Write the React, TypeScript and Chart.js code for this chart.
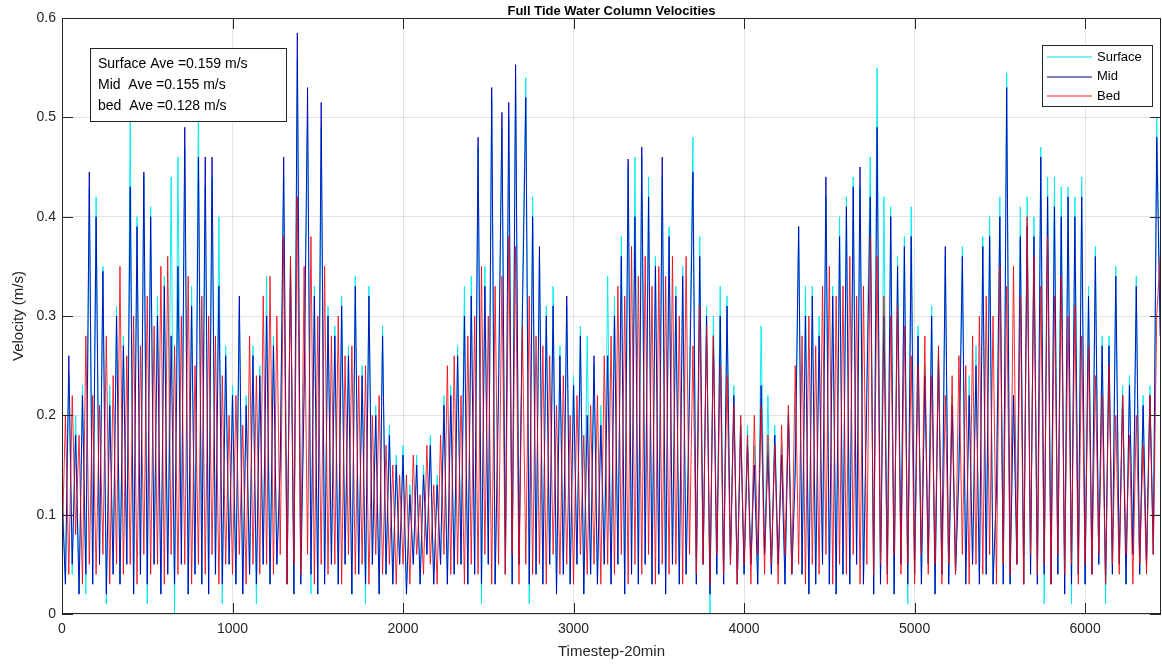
import React, { useEffect, useRef } from 'react';
import { Chart, registerables } from 'chart.js';
Chart.register(...registerables);

// timestep spacing of the sampled readings
const STEP = 20;
const X_MAX = 6445;

const seriesNames = ['Surface', 'Mid', 'Bed'];
const xTicks = [0, 1000, 2000, 3000, 4000, 5000, 6000];
const yTicks = [0, 0.1, 0.2, 0.3, 0.4, 0.5, 0.6];
const aveLines = ['Surface Ave =0.159 m/s', 'Mid  Ave =0.155 m/s', 'bed  Ave =0.128 m/s'];

const surface = [
  0.14, 0.03, 0.24, 0.04, 0.20, 0.02, 0.23, 0.02, 0.43, 0.03, 0.42, 0.05, 0.35, 0.01, 0.23, 0.04, 0.31, 0.03, 0.28, 0.05,
  0.50, 0.02, 0.40, 0.04, 0.44, 0.01, 0.41, 0.05, 0.32, 0.02, 0.34, 0.04, 0.44, 0.00, 0.46, 0.05, 0.47, 0.02, 0.33, 0.04,
  0.51, 0.03, 0.43, 0.02, 0.44, 0.04, 0.40, 0.01, 0.27, 0.05, 0.23, 0.03, 0.31, 0.02, 0.22, 0.04, 0.27, 0.01, 0.25, 0.05,
  0.34, 0.03, 0.28, 0.05, 0.16, 0.44, 0.03, 0.36, 0.02, 0.56, 0.03, 0.24, 0.50, 0.02, 0.33, 0.02, 0.49, 0.03, 0.31, 0.05,
  0.29, 0.03, 0.32, 0.05, 0.27, 0.02, 0.34, 0.04, 0.25, 0.01, 0.33, 0.05, 0.21, 0.02, 0.29, 0.04, 0.19, 0.03, 0.16, 0.05,
  0.17, 0.02, 0.13, 0.05, 0.16, 0.03, 0.15, 0.06, 0.18, 0.03, 0.14, 0.05, 0.22, 0.03, 0.23, 0.04, 0.27, 0.05, 0.33, 0.03,
  0.34, 0.04, 0.47, 0.01, 0.35, 0.05, 0.52, 0.03, 0.24, 0.49, 0.04, 0.50, 0.03, 0.54, 0.05, 0.32, 0.54, 0.01, 0.42, 0.04,
  0.36, 0.03, 0.31, 0.05, 0.33, 0.02, 0.27, 0.04, 0.31, 0.03, 0.24, 0.05, 0.29, 0.02, 0.28, 0.04, 0.25, 0.03, 0.21, 0.05,
  0.34, 0.03, 0.32, 0.05, 0.38, 0.02, 0.45, 0.04, 0.46, 0.03, 0.46, 0.05, 0.44, 0.03, 0.36, 0.04, 0.44, 0.02, 0.39, 0.05,
  0.33, 0.03, 0.35, 0.04, 0.24, 0.48, 0.03, 0.38, 0.05, 0.31, 0.00, 0.30, 0.04, 0.33, 0.03, 0.32, 0.05, 0.23, 0.03, 0.20,
  0.04, 0.19, 0.05, 0.17, 0.03, 0.29, 0.06, 0.22, 0.04, 0.19, 0.05, 0.17, 0.03, 0.21, 0.04, 0.16, 0.39, 0.04, 0.33, 0.02,
  0.33, 0.03, 0.30, 0.05, 0.42, 0.03, 0.33, 0.02, 0.40, 0.04, 0.42, 0.03, 0.44, 0.05, 0.43, 0.03, 0.24, 0.46, 0.02, 0.55,
  0.03, 0.42, 0.04, 0.41, 0.02, 0.36, 0.05, 0.38, 0.01, 0.41, 0.04, 0.29, 0.03, 0.25, 0.05, 0.31, 0.02, 0.27, 0.04, 0.36,
  0.03, 0.22, 0.04, 0.16, 0.37, 0.03, 0.24, 0.05, 0.27, 0.03, 0.38, 0.04, 0.40, 0.03, 0.14, 0.42, 0.03, 0.545, 0.03, 0.22,
  0.05, 0.41, 0.03, 0.42, 0.04, 0.40, 0.03, 0.47, 0.01, 0.44, 0.03, 0.44, 0.04, 0.43, 0.02, 0.43, 0.01, 0.42, 0.04, 0.44,
  0.03, 0.33, 0.04, 0.37, 0.05, 0.28, 0.01, 0.28, 0.04, 0.35, 0.05, 0.23, 0.03, 0.24, 0.06, 0.34, 0.04, 0.22, 0.05, 0.23,
  0.06, 0.50, 0.30,
];

const mid = [
  0.12, 0.03, 0.26, 0.05, 0.18, 0.02, 0.22, 0.04, 0.445, 0.03, 0.40, 0.05, 0.345, 0.02, 0.21, 0.04, 0.30, 0.03, 0.27, 0.05,
  0.43, 0.02, 0.39, 0.04, 0.445, 0.03, 0.40, 0.05, 0.30, 0.02, 0.33, 0.04, 0.28, 0.03, 0.35, 0.05, 0.49, 0.02, 0.31, 0.04,
  0.46, 0.03, 0.46, 0.02, 0.46, 0.04, 0.33, 0.03, 0.26, 0.05, 0.22, 0.03, 0.32, 0.02, 0.21, 0.04, 0.26, 0.03, 0.24, 0.05,
  0.30, 0.03, 0.27, 0.05, 0.15, 0.46, 0.03, 0.35, 0.02, 0.585, 0.03, 0.22, 0.53, 0.04, 0.32, 0.02, 0.515, 0.03, 0.30, 0.05,
  0.28, 0.03, 0.31, 0.05, 0.26, 0.02, 0.33, 0.04, 0.24, 0.03, 0.32, 0.05, 0.20, 0.02, 0.28, 0.04, 0.18, 0.03, 0.15, 0.05,
  0.16, 0.02, 0.12, 0.05, 0.15, 0.03, 0.14, 0.06, 0.17, 0.03, 0.13, 0.05, 0.21, 0.03, 0.22, 0.04, 0.26, 0.05, 0.30, 0.03,
  0.32, 0.04, 0.48, 0.03, 0.33, 0.05, 0.53, 0.03, 0.22, 0.505, 0.04, 0.515, 0.03, 0.553, 0.05, 0.30, 0.52, 0.03, 0.40, 0.04,
  0.37, 0.03, 0.30, 0.05, 0.31, 0.02, 0.26, 0.04, 0.32, 0.03, 0.23, 0.05, 0.28, 0.02, 0.20, 0.04, 0.26, 0.03, 0.19, 0.05,
  0.26, 0.03, 0.30, 0.05, 0.36, 0.02, 0.458, 0.04, 0.40, 0.03, 0.47, 0.05, 0.42, 0.03, 0.35, 0.04, 0.46, 0.02, 0.38, 0.05,
  0.32, 0.03, 0.34, 0.04, 0.22, 0.445, 0.03, 0.36, 0.05, 0.30, 0.02, 0.28, 0.04, 0.30, 0.03, 0.31, 0.05, 0.22, 0.03, 0.19,
  0.04, 0.17, 0.05, 0.15, 0.03, 0.23, 0.06, 0.16, 0.04, 0.18, 0.05, 0.16, 0.03, 0.20, 0.04, 0.14, 0.39, 0.04, 0.30, 0.02,
  0.32, 0.03, 0.28, 0.05, 0.44, 0.03, 0.32, 0.02, 0.38, 0.04, 0.41, 0.03, 0.43, 0.05, 0.45, 0.03, 0.22, 0.42, 0.02, 0.49,
  0.03, 0.30, 0.04, 0.40, 0.02, 0.35, 0.05, 0.37, 0.03, 0.38, 0.04, 0.28, 0.03, 0.24, 0.05, 0.30, 0.02, 0.26, 0.04, 0.37,
  0.03, 0.21, 0.04, 0.14, 0.36, 0.03, 0.22, 0.05, 0.25, 0.03, 0.37, 0.04, 0.38, 0.03, 0.12, 0.40, 0.03, 0.53, 0.03, 0.22,
  0.05, 0.38, 0.03, 0.39, 0.04, 0.38, 0.03, 0.46, 0.04, 0.42, 0.03, 0.41, 0.04, 0.40, 0.02, 0.42, 0.03, 0.40, 0.04, 0.42,
  0.03, 0.32, 0.04, 0.36, 0.05, 0.27, 0.03, 0.27, 0.04, 0.34, 0.05, 0.22, 0.03, 0.23, 0.06, 0.33, 0.04, 0.21, 0.05, 0.22,
  0.06, 0.48, 0.28,
];

const bed = [
  0.06, 0.20, 0.04, 0.22, 0.08, 0.18, 0.03, 0.28, 0.05, 0.22, 0.04, 0.21, 0.06, 0.28, 0.03, 0.24, 0.05, 0.35, 0.04, 0.26,
  0.05, 0.30, 0.03, 0.27, 0.06, 0.32, 0.04, 0.29, 0.05, 0.35, 0.03, 0.36, 0.06, 0.27, 0.04, 0.30, 0.05, 0.34, 0.03, 0.25,
  0.05, 0.32, 0.04, 0.30, 0.06, 0.28, 0.03, 0.24, 0.05, 0.20, 0.04, 0.22, 0.06, 0.19, 0.03, 0.28, 0.05, 0.24, 0.04, 0.32,
  0.05, 0.34, 0.04, 0.30, 0.06, 0.38, 0.03, 0.36, 0.05, 0.42, 0.04, 0.35, 0.06, 0.38, 0.03, 0.30, 0.05, 0.35, 0.04, 0.28,
  0.05, 0.30, 0.03, 0.26, 0.06, 0.27, 0.04, 0.24, 0.05, 0.25, 0.03, 0.20, 0.06, 0.22, 0.04, 0.17, 0.05, 0.15, 0.03, 0.14,
  0.05, 0.14, 0.03, 0.16, 0.06, 0.12, 0.04, 0.17, 0.05, 0.13, 0.03, 0.18, 0.06, 0.25, 0.04, 0.26, 0.05, 0.22, 0.03, 0.28,
  0.05, 0.30, 0.04, 0.35, 0.06, 0.30, 0.03, 0.33, 0.05, 0.34, 0.04, 0.38, 0.06, 0.37, 0.03, 0.29, 0.05, 0.32, 0.04, 0.28,
  0.05, 0.27, 0.03, 0.26, 0.06, 0.21, 0.04, 0.24, 0.05, 0.20, 0.03, 0.22, 0.06, 0.18, 0.04, 0.21, 0.05, 0.22, 0.03, 0.26,
  0.05, 0.28, 0.04, 0.33, 0.06, 0.32, 0.03, 0.37, 0.05, 0.34, 0.04, 0.36, 0.06, 0.33, 0.03, 0.35, 0.05, 0.34, 0.04, 0.36,
  0.05, 0.30, 0.03, 0.36, 0.06, 0.27, 0.04, 0.31, 0.05, 0.29, 0.03, 0.28, 0.06, 0.25, 0.04, 0.24, 0.05, 0.21, 0.03, 0.20,
  0.05, 0.18, 0.03, 0.20, 0.06, 0.21, 0.04, 0.18, 0.05, 0.17, 0.03, 0.19, 0.06, 0.21, 0.04, 0.25, 0.05, 0.28, 0.03, 0.30,
  0.05, 0.27, 0.04, 0.33, 0.06, 0.35, 0.03, 0.32, 0.05, 0.33, 0.04, 0.36, 0.06, 0.32, 0.03, 0.33, 0.05, 0.38, 0.04, 0.36,
  0.05, 0.32, 0.03, 0.30, 0.06, 0.31, 0.04, 0.29, 0.05, 0.26, 0.03, 0.25, 0.06, 0.28, 0.04, 0.24, 0.05, 0.27, 0.03, 0.22,
  0.05, 0.24, 0.04, 0.26, 0.06, 0.25, 0.03, 0.28, 0.05, 0.30, 0.04, 0.32, 0.06, 0.30, 0.03, 0.35, 0.05, 0.33, 0.04, 0.35,
  0.05, 0.32, 0.03, 0.40, 0.06, 0.36, 0.04, 0.33, 0.05, 0.38, 0.03, 0.32, 0.06, 0.34, 0.04, 0.30, 0.05, 0.31, 0.03, 0.28,
  0.05, 0.27, 0.04, 0.24, 0.06, 0.22, 0.03, 0.25, 0.05, 0.20, 0.04, 0.22, 0.06, 0.18, 0.03, 0.20, 0.05, 0.17, 0.04, 0.22,
  0.06, 0.30, 0.36,
];

const colors = ['rgba(0,235,240,0.95)', 'rgba(0,0,185,0.9)', 'rgba(245,0,10,0.82)'];
const legendColors = ['#00e0e8', '#00008b', '#ff1010'];

const FONT = '"Liberation Sans", Arial, Helvetica, sans-serif';
const AX = '#262626';

const toPoints = (arr: number[]) => arr.map((v, i) => ({ x: i * STEP, y: v }));

const decor = {
  id: 'decor',
  beforeDraw(chart: any) {
    const { ctx, width, height } = chart;
    ctx.save();
    ctx.fillStyle = '#ffffff';
    ctx.fillRect(0, 0, width, height);
    ctx.restore();
  },
  afterDraw(chart: any) {
    const { ctx, chartArea: a, scales } = chart;
    ctx.save();
    ctx.strokeStyle = AX;
    ctx.lineWidth = 1;
    ctx.beginPath();
    xTicks.forEach((v) => {
      const x = Math.round(scales.x.getPixelForValue(v)) + 0.5;
      ctx.moveTo(x, a.bottom);
      ctx.lineTo(x, a.bottom - 11);
      ctx.moveTo(x, a.top);
      ctx.lineTo(x, a.top + 11);
    });
    yTicks.forEach((v) => {
      const y = Math.round(scales.y.getPixelForValue(v)) + 0.5;
      ctx.moveTo(a.left, y);
      ctx.lineTo(a.left + 11, y);
      ctx.moveTo(a.right, y);
      ctx.lineTo(a.right - 11, y);
    });
    ctx.stroke();
    ctx.strokeRect(a.left + 0.5, a.top + 0.5, a.right - a.left - 1, a.bottom - a.top - 1);

    // title
    ctx.fillStyle = '#000';
    ctx.font = `bold 13px ${FONT}`;
    ctx.textAlign = 'center';
    ctx.textBaseline = 'middle';
    ctx.fillText('Full Tide Water Column Velocities', (a.left + a.right) / 2, 11);

    // axis titles
    ctx.fillStyle = AX;
    ctx.font = `15px ${FONT}`;
    ctx.fillText('Timestep-20min', (a.left + a.right) / 2, 652);
    ctx.save();
    ctx.translate(19, (a.top + a.bottom) / 2);
    ctx.rotate(-Math.PI / 2);
    ctx.fillText('Velocity (m/s)', 0, 0);
    ctx.restore();

    // averages box
    const bx = a.left + 28, by = a.top + 30, bw = 196, bh = 73;
    ctx.fillStyle = '#fff';
    ctx.fillRect(bx, by, bw, bh);
    ctx.strokeStyle = AX;
    ctx.strokeRect(bx + 0.5, by + 0.5, bw, bh);
    ctx.fillStyle = '#000';
    ctx.font = `14px ${FONT}`;
    ctx.textAlign = 'left';
    aveLines.forEach((t, i) => ctx.fillText(t, bx + 8, by + 16 + i * 21));

    // legend
    const lx = a.right - 119, ly = a.top + 27, lw = 110, lh = 61;
    ctx.fillStyle = '#fff';
    ctx.fillRect(lx, ly, lw, lh);
    ctx.strokeStyle = AX;
    ctx.strokeRect(lx + 0.5, ly + 0.5, lw, lh);
    ctx.font = `13px ${FONT}`;
    chart.data.datasets.forEach((ds: any, i: number) => {
      const yy = ly + 12 + i * 19.5;
      ctx.strokeStyle = legendColors[i];
      ctx.lineWidth = 1.2;
      ctx.beginPath();
      ctx.moveTo(lx + 5, Math.round(yy));
      ctx.lineTo(lx + 50, Math.round(yy));
      ctx.stroke();
      ctx.fillStyle = '#000';
      ctx.fillText(ds.label, lx + 55, yy);
    });
    ctx.restore();
  },
};

export default function App() {
  const ref = useRef<HTMLCanvasElement | null>(null);
  useEffect(() => {
    if (!ref.current) return;
    const series = [surface, mid, bed];
    const chart = new Chart(ref.current, {
      type: 'line',
      data: {
        datasets: series.map((arr, i) => ({
          label: seriesNames[i],
          data: toPoints(arr),
          borderColor: colors[i],
          borderWidth: 1,
          pointRadius: 0,
          tension: 0,
          fill: false,
          order: 3 - i,
        })),
      },
      options: {
        animation: false,
        responsive: false,
        devicePixelRatio: 1,
        parsing: false as any,
        normalized: true,
        layout: { padding: { left: 0, right: 1, top: 18, bottom: 0 } },
        plugins: { legend: { display: false }, tooltip: { enabled: false }, title: { display: false } },
        scales: {
          x: {
            type: 'linear',
            min: 0,
            max: X_MAX,
            afterBuildTicks: (s: any) => { s.ticks = xTicks.map((v) => ({ value: v })); },
            afterFit: (s: any) => { s.height = 50; },
            grid: { color: 'rgba(38,38,38,0.13)', drawTicks: false },
            border: { display: false },
            ticks: { color: AX, font: { family: FONT, size: 14 }, padding: 7, maxRotation: 0, callback: (v: any) => String(v) },
          },
          y: {
            type: 'linear',
            min: 0,
            max: 0.6,
            afterBuildTicks: (s: any) => { s.ticks = yTicks.map((v) => ({ value: v })); },
            afterFit: (s: any) => { s.width = 62; },
            grid: { color: 'rgba(38,38,38,0.13)', drawTicks: false },
            border: { display: false },
            ticks: { color: AX, font: { family: FONT, size: 14 }, padding: 6, callback: (v: any) => (Number(v) === 0 ? '0' : Number(v).toFixed(1)) },
          },
        },
      },
      plugins: [decor],
    });
    return () => chart.destroy();
  }, []);
  return (
    <div style={{ position: 'absolute', left: 0, top: 0 }}>
      <canvas ref={ref} width={1162} height={664} style={{ width: 1162, height: 664, display: 'block' }} />
    </div>
  );
}
